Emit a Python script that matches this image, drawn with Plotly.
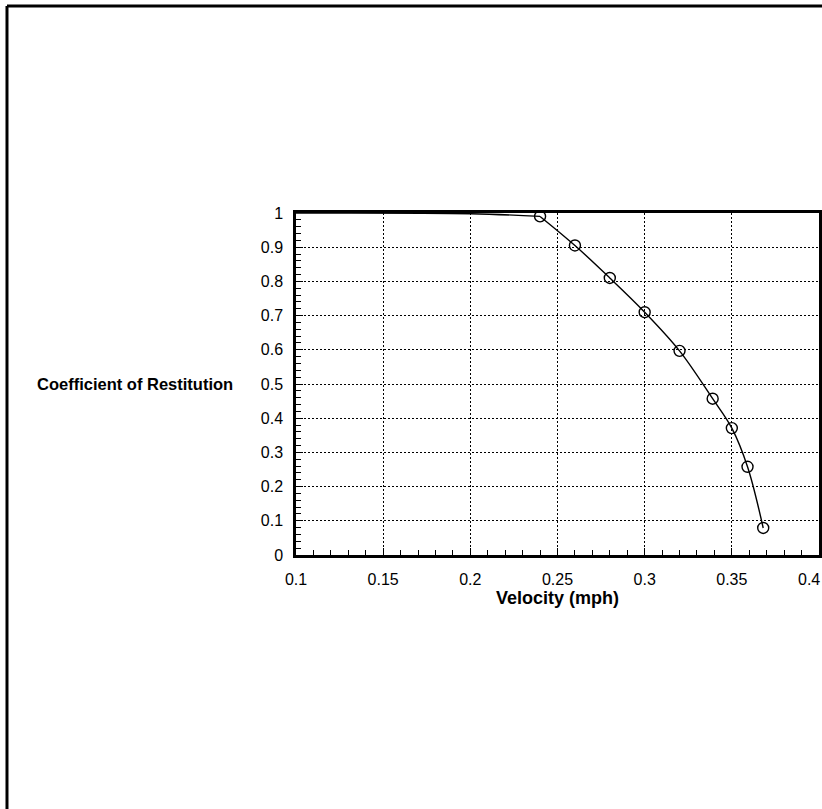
import plotly.graph_objects as go

# Data
velocity = [0.24, 0.26, 0.28, 0.30, 0.32, 0.339, 0.35, 0.359, 0.368]
restitution = [0.99, 0.905, 0.81, 0.71, 0.597, 0.457, 0.371, 0.258, 0.079]
# curve lead-in from the left axis (no markers)
lead_velocity = [0.1, 0.2, 0.24]
lead_restitution = [1.0, 0.998, 0.99]

x_ticks = [0.1, 0.15, 0.2, 0.25, 0.3, 0.35, 0.4]
x_tick_text = ["0.1", "0.15", "0.2", "0.25", "0.3", "0.35", "0.4"]
y_ticks = [0, 0.1, 0.2, 0.3, 0.4, 0.5, 0.6, 0.7, 0.8, 0.9, 1]
y_tick_text = ["0", "0.1", "0.2", "0.3", "0.4", "0.5", "0.6", "0.7", "0.8", "0.9", "1"]

FONT = "Liberation Sans, Arial, sans-serif"

fig = go.Figure()
fig.add_trace(go.Scatter(
    x=lead_velocity, y=lead_restitution, mode="lines",
    line=dict(color="black", width=1.4, shape="spline"),
    showlegend=False, hoverinfo="skip"))
fig.add_trace(go.Scatter(
    x=velocity, y=restitution, mode="lines+markers",
    line=dict(color="black", width=1.4, shape="spline"),
    marker=dict(symbol="circle-open", size=11, color="black", line=dict(width=1.4)),
    showlegend=False))

axis_common = dict(
    showline=True, linecolor="black", linewidth=2.5, mirror=True,
    showgrid=True, gridcolor="black", gridwidth=1, griddash="2px,2px",
    zeroline=False, ticks="inside", ticklen=7, tickcolor="black", tickwidth=1,
    tickfont=dict(family=FONT, size=16, color="black"),
    ticklabeloverflow="allow", automargin=False,
)

# the last x tick label sits at the window edge; draw it as an annotation
# nudged inward so it stays fully visible
x_tick_axis_text = x_tick_text[:-1] + [""]

fig.update_xaxes(
    range=[0.1, 0.4], tickvals=x_ticks, ticktext=x_tick_axis_text,
    ticklabelstandoff=8,
    minor=dict(dtick=0.01, ticks="inside", ticklen=5, tickcolor="black", tickwidth=1, showgrid=False),
    title=dict(text="<b>Velocity (mph)</b>", font=dict(family=FONT, size=18, color="black"), standoff=4),
    **axis_common)
fig.update_yaxes(
    range=[0, 1], tickvals=y_ticks, ticktext=y_tick_text,
    ticklabelstandoff=7,
    minor=dict(dtick=0.02, ticks="inside", ticklen=5, tickcolor="black", tickwidth=1, showgrid=False),
    **axis_common)

fig.add_annotation(
    text=x_tick_text[-1], xref="x", yref="paper", x=x_ticks[-1], y=0,
    xanchor="center", yanchor="middle", xshift=-10, yshift=-24, showarrow=False,
    font=dict(family=FONT, size=16, color="black"))

fig.add_annotation(
    text="<b>Coefficient of Restitution</b>", xref="paper", yref="paper",
    x=-0.117, y=0.5, xanchor="right", yanchor="middle", showarrow=False,
    font=dict(family=FONT, size=16.5, color="black"))

# outer frame (left and top edges of the scanned page border)
fig.add_shape(type="line", xref="paper", yref="paper",
              x0=-0.5526, x1=-0.5526, y0=1.605, y1=-0.8, line=dict(color="black", width=3))
fig.add_shape(type="line", xref="paper", yref="paper",
              x0=-0.5526, x1=1.05, y0=1.605, y1=1.605, line=dict(color="black", width=3))

fig.update_layout(
    width=822, height=809,
    margin=dict(l=296, r=3, t=213, b=254, autoexpand=False),
    paper_bgcolor="white", plot_bgcolor="white",
    font=dict(family=FONT, color="black"),
)

fig.write_html("out.html")
